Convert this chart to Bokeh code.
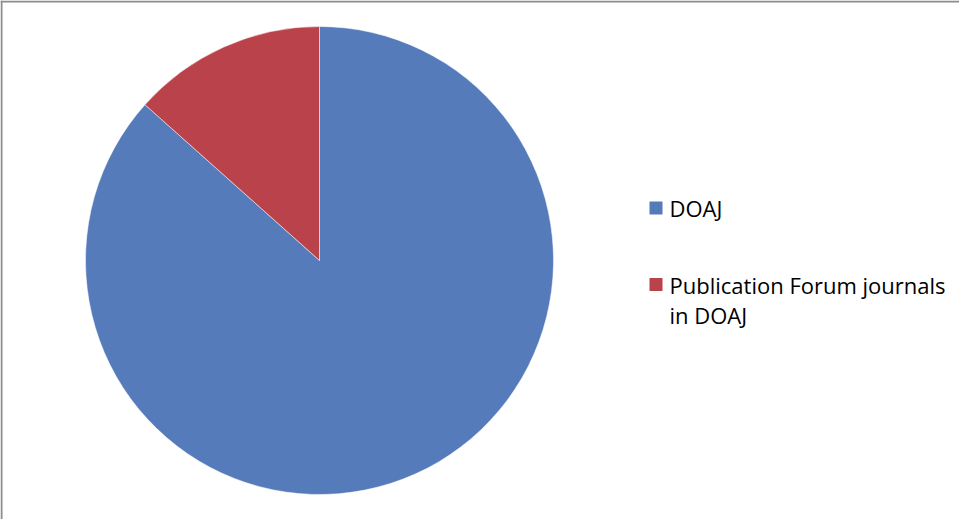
import math
from bokeh.plotting import figure
from bokeh.models import ColumnDataSource, Span
from bokeh.core.properties import value
from bokeh.embed import file_html
from bokeh.resources import INLINE

categories = ["DOAJ", "Publication Forum journals in DOAJ"]
shares = [86.6, 13.4]
colors = ["#557BBB", "#BA434B"]
legend_lines = [["DOAJ"], ["Publication Forum journals", "in DOAJ"]]

W, H = 959, 519
p = figure(width=W, height=H, output_backend="svg", toolbar_location=None,
           x_range=(0, W), y_range=(0, H), min_border=0)
p.axis.visible = False
p.grid.visible = False
p.outline_line_color = None
p.background_fill_color = "white"

# frame lines (left and top only, as in the reference)
p.add_layout(Span(location=1, dimension="height", line_color="#8C8C8C", line_width=2))
p.add_layout(Span(location=H - 1, dimension="width", line_color="#8C8C8C", line_width=2))

# pie: start at 12 o'clock, clockwise
total = sum(shares)
starts, ends = [], []
ang = math.pi / 2
for s in shares:
    a = 2 * math.pi * s / total
    starts.append(ang)
    ends.append(ang - a)
    ang -= a
src = ColumnDataSource(dict(start=starts, end=ends, color=colors, cat=categories))
cx, cy, r = 319, 259, 234
p.wedge(x=cx, y=cy, radius=r, start_angle="start", end_angle="end", direction="clock",
        fill_color="color", line_color="white", line_width=0.5, source=src)

# legend
lx, ly0, step = 655.5, 311.5, 76.5
sq_x = [lx for _ in categories]
sq_y = [ly0 - i * step for i in range(len(categories))]
p.scatter(x=sq_x, y=sq_y, marker="square", size=13, fill_color=colors, line_color=None)
tx, ty, tc = [], [], []
for i, lines in enumerate(legend_lines):
    for j, t in enumerate(lines):
        tx.append(lx + 13.5)
        ty.append(sq_y[i] - j * 30)
        tc.append(t)
p.text(x=tx, y=ty, text=tc, text_font=value("Open Sans"), text_font_size="22px",
       text_color="black", text_baseline="middle", text_align="left")

open("out.html", "w").write(file_html(p, INLINE))
